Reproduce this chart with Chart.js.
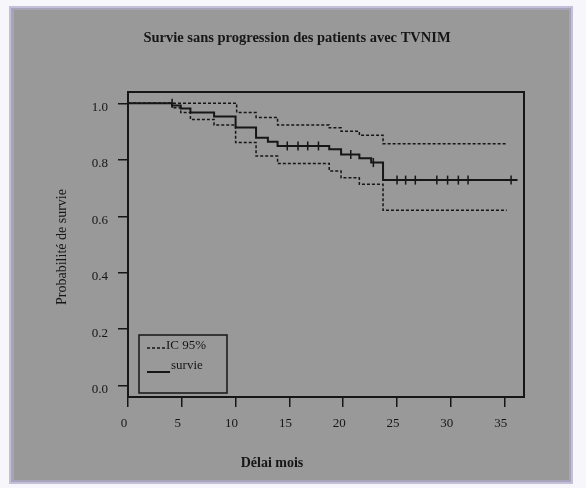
<!DOCTYPE html>
<html>
<head>
<meta charset="utf-8">
<script src="https://cdn.jsdelivr.net/npm/chart.js@4"></script>
<style>
html,body{margin:0;padding:0;background:#f6f5fa;}
#wrap{width:586px;height:488px;position:relative;}
</style>
</head>
<body>
<div id="wrap"><canvas id="c" width="586" height="488"></canvas></div>
<script>
// ---- data ----
const titleText = "Survie sans progression des patients avec TVNIM";
const xTitle = "Délai mois";
const yTitle = "Probabilité de survie";
const xTicks = [0, 5, 10, 15, 20, 25, 30, 35];
const yTicks = [0.0, 0.2, 0.4, 0.6, 0.8, 1.0];
const legendLabels = ["IC 95%", "survie"];

const survTimes = [0, 4.1, 4.9, 5.8, 8.0, 10.0, 11.9, 13.0, 13.9, 18.7, 19.8, 21.5, 22.6, 23.7, 36.2];
const survVals  = [1.0, 0.992, 0.982, 0.967, 0.953, 0.914, 0.878, 0.864, 0.849, 0.837, 0.819, 0.805, 0.790, 0.728, 0.728];

const upperTimes = [0, 10.1, 11.9, 13.9, 18.7, 19.8, 21.5, 23.7, 35.2];
const upperVals  = [1.0, 0.967, 0.950, 0.923, 0.913, 0.901, 0.887, 0.857, 0.857];

const lowerTimes = [0, 4.1, 4.9, 5.8, 8.0, 10.0, 11.9, 13.9, 18.7, 19.8, 21.5, 23.7, 35.2];
const lowerVals  = [1.0, 0.984, 0.967, 0.943, 0.923, 0.861, 0.813, 0.787, 0.760, 0.736, 0.713, 0.621, 0.621];

const censorTimes = [4.1, 14.8, 15.8, 16.7, 17.7, 20.7, 22.8, 25.0, 25.8, 26.7, 28.7, 29.7, 30.7, 31.6, 35.6];
const censorVals  = [1.0, 0.849, 0.849, 0.849, 0.849, 0.819, 0.790, 0.728, 0.728, 0.728, 0.728, 0.728, 0.728, 0.728, 0.728];

const pts = (t, v) => t.map((x, i) => ({x: x, y: v[i]}));

const INK = '#161616';
const SERIF = '"Liberation Serif", "DejaVu Serif", serif';

const decor = {
  id: 'decor',
  beforeDraw(chart) {
    const ctx = chart.ctx;
    ctx.save();
    ctx.fillStyle = '#f7f6fb';
    ctx.fillRect(0, 0, 586, 488);
    ctx.fillStyle = '#c4bfd8';
    ctx.fillRect(9, 6, 564, 478);
    ctx.fillStyle = '#a7a3b9';
    ctx.fillRect(11, 8, 560, 474);
    ctx.fillStyle = '#999999';
    ctx.fillRect(14, 10, 555, 470);
    ctx.restore();
  },
  afterDatasetsDraw(chart) {
    const ctx = chart.ctx;
    const a = chart.chartArea;
    ctx.save();
    ctx.strokeStyle = INK;
    ctx.lineWidth = 2;
    ctx.strokeRect(a.left, a.top, a.right - a.left, a.bottom - a.top);
    // legend
    ctx.lineWidth = 1.5;
    ctx.strokeRect(139, 335, 88, 58);
    ctx.beginPath();
    ctx.setLineDash([3, 2]);
    ctx.moveTo(147, 348); ctx.lineTo(166, 348);
    ctx.stroke();
    ctx.setLineDash([]);
    ctx.lineWidth = 2;
    ctx.beginPath();
    ctx.moveTo(147, 372); ctx.lineTo(170, 372);
    ctx.stroke();
    ctx.fillStyle = INK;
    ctx.font = '13px ' + SERIF;
    ctx.textBaseline = 'middle';
    ctx.textAlign = 'left';
    ctx.fillText(legendLabels[0], 166, 346);
    ctx.fillText(legendLabels[1], 171, 366);
    // titles
    ctx.textAlign = 'center';
    ctx.font = 'bold 14.5px ' + SERIF;
    ctx.fillText(titleText, 297, 38);
    ctx.font = 'bold 14px ' + SERIF;
    ctx.fillText(xTitle, 272, 463);
    ctx.translate(62, 247);
    ctx.rotate(-Math.PI / 2);
    ctx.font = '14px ' + SERIF;
    ctx.fillText(yTitle, 0, 0);
    ctx.restore();
  }
};

new Chart(document.getElementById('c'), {
  type: 'line',
  data: {
    datasets: [
      {label: 'upper', data: pts(upperTimes, upperVals), stepped: true, borderColor: INK, borderWidth: 1.5, borderDash: [3, 2], pointRadius: 0, fill: false},
      {label: 'lower', data: pts(lowerTimes, lowerVals), stepped: true, borderColor: INK, borderWidth: 1.5, borderDash: [3, 2], pointRadius: 0, fill: false},
      {label: 'survie', data: pts(survTimes, survVals), stepped: true, borderColor: INK, borderWidth: 2, pointRadius: 0, fill: false},
      {label: 'censure', data: pts(censorTimes, censorVals), showLine: false, pointStyle: 'line', rotation: 90, pointRadius: 4.5, borderColor: INK, borderWidth: 1.5, pointBorderColor: INK}
    ]
  },
  options: {
    responsive: false,
    animation: false,
    events: [],
    layout: {padding: {left: 0, right: 62, top: 92, bottom: 0}},
    plugins: {legend: {display: false}, title: {display: false}, tooltip: {enabled: false}},
    scales: {
      x: {
        type: 'linear', min: 0, max: 36.8,
        afterFit(s) { s.height = 91; },
        afterBuildTicks(s) { s.ticks = xTicks.map(v => ({value: v})); },
        border: {display: false},
        grid: {display: true, drawOnChartArea: false, drawTicks: true, tickLength: 10, color: INK, lineWidth: 1.5},
        ticks: {color: INK, font: {family: SERIF, size: 13}, padding: 9, labelOffset: -4, maxRotation: 0, autoSkip: false, callback: v => String(v)}
      },
      y: {
        type: 'linear', min: -0.04, max: 1.04,
        afterFit(s) { s.width = 128; },
        afterBuildTicks(s) { s.ticks = yTicks.map(v => ({value: v})); },
        border: {display: false},
        grid: {display: true, drawOnChartArea: false, drawTicks: true, tickLength: 10, color: INK, lineWidth: 1.5},
        ticks: {color: INK, font: {family: SERIF, size: 13}, padding: 10, labelOffset: 4, autoSkip: false, callback: v => v.toFixed(1)}
      }
    }
  },
  plugins: [decor]
});
</script>
</body>
</html>
